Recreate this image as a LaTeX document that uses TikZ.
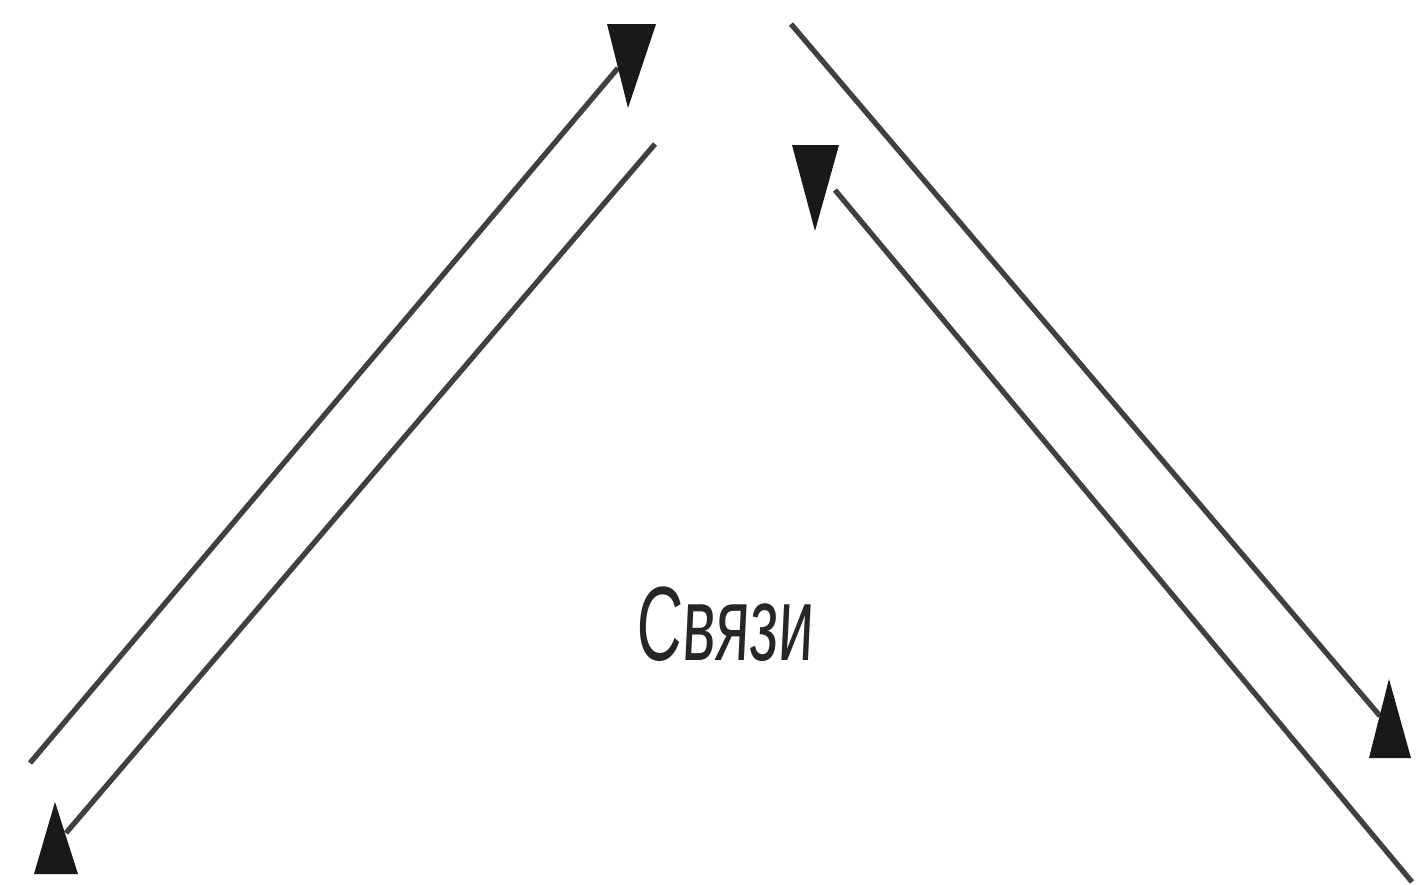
\documentclass[tikz,border=0pt]{standalone}
\usepackage{fontspec}
\setmainfont{Liberation Sans}
\usetikzlibrary{calc}
\tikzset{
    link line/.style={
        line width=1.5pt,
        black!75
    },
    link tip/.style={
        fill=black!90
    }
}
\begin{document}
\begin{tikzpicture}[x=0.01cm, y=-0.01cm]
                \useasboundingbox (0,0) rectangle (1417,884);
                % line ends
                \coordinate (A1) at (30, 763);
                \coordinate (A2) at (618, 68);
                \coordinate (B1) at (655, 144);
                \coordinate (B2) at (66, 833);
                \coordinate (C1) at (791, 24);
                \coordinate (C2) at (1380, 716);
                \coordinate (D1) at (1412, 882);
                \coordinate (D2) at (835, 190);

                \draw [link line] (A1) -- (A2);
                \draw [link line] (B1) -- (B2);
                \draw [link line] (C1) -- (C2);
                \draw [link line] (D1) -- (D2);

                % arrow tips
                \fill [link tip] (607, 24) -- (656, 24) -- (628, 108) -- cycle;
                \fill [link tip] (34, 874) -- (78, 874) -- (55, 802) -- cycle;
                \fill [link tip] (1369, 758) -- (1411, 758) -- (1389, 679) -- cycle;
                \fill [link tip] (792, 145) -- (839, 145) -- (815, 231) -- cycle;

                \node (links) at (726, 624) [xscale=0.6, xslant=0.08, text=black!85]
                    {\fontsize{30}{36}\selectfont Связи};
            \end{tikzpicture}
\end{document}
